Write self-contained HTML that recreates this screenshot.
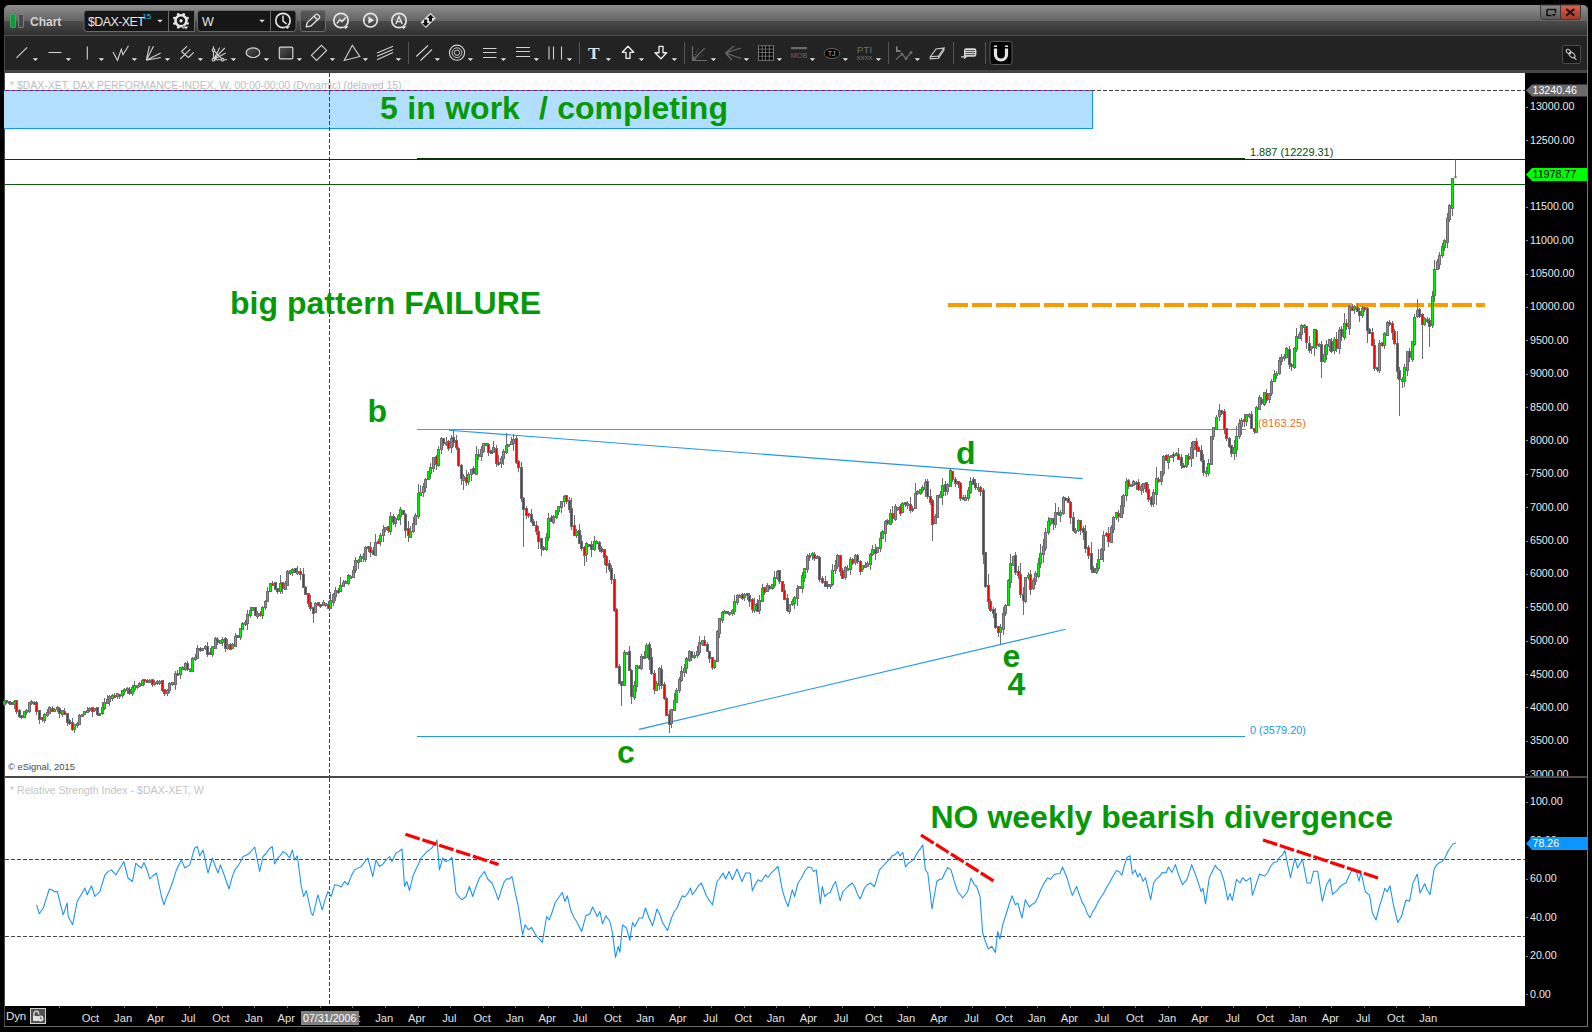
<!DOCTYPE html>
<html><head><meta charset="utf-8"><title>Chart</title>
<style>
html,body{margin:0;padding:0;background:#000;}
body{width:1592px;height:1032px;position:relative;overflow:hidden;font-family:"Liberation Sans",Arial,sans-serif;}
div{position:absolute;box-sizing:border-box;white-space:nowrap;}
#win{left:4px;top:5px;width:1584px;height:1022px;background:#000;border-radius:5px 5px 0 0;overflow:hidden;}
#title{left:0;top:0;width:1584px;height:30px;background:linear-gradient(#8e8e8e 0%,#7a7a7a 25%,#646464 52%,#4b4b4b 53%,#3c3c3c 80%,#2f2f2f 100%);}
#tline{left:0;top:30px;width:1584px;height:1px;background:#505050;}
#tool{left:0;top:31px;width:1584px;height:35px;background:#232323;}
#strip{left:0;top:65px;width:1584px;height:3px;background:#444;}
#plot{left:1px;top:68px;width:1520px;height:933px;background:#fff;}
#lb{left:0;top:31px;width:1px;height:991px;background:#4a4a4a;}
#rb{left:1583px;top:0;width:1px;height:1022px;background:#787878;}
#bb{left:0;top:1021px;width:1584px;height:1px;background:#6a6a6a;}
#sep{left:1px;top:771px;width:1582px;height:2px;background:#4a4a4a;}
.yl{left:1530px;font-size:10.67px;line-height:14px;color:#ececec;}
.tk{left:1526px;width:2px;height:1px;background:#8a8a8a;}
.xl{top:1010px;width:40px;text-align:center;font-size:11.2px;line-height:16px;color:#e2e2e2;}
.xt{top:1006px;width:1px;height:2px;background:#777;}
.ann{color:#069906;font-weight:bold;font-size:32px;line-height:34px;}
.tag{left:1526px;width:61px;height:13px;font-size:10.67px;line-height:13px;padding-left:6.5px;}
#svg{position:absolute;left:0;top:0;}
</style></head><body>
<div id="win">
 <div id="title"></div><div id="tline"></div><div id="tool"></div><div id="strip"></div>
 <div id="plot"></div>
 <div id="lb"></div><div id="rb"></div><div id="bb"></div>
</div>
<div id="sepw" style="left:5px;top:776px;width:1582px;height:2px;background:#4a4a4a"></div>

<div style="left:10px;top:80px;font-size:10.45px;line-height:12px;color:#bdbdbd" id="hdr">* $DAX-XET, DAX PERFORMANCE-INDEX, W, 00:00-00:00 (Dynamic) (delayed 15)</div>
<div style="left:10px;top:783.5px;font-size:10.63px;line-height:12px;color:#c4c4c4" id="hdr2">* Relative Strength Index - $DAX-XET, W</div>
<div style="left:8px;top:761px;font-size:9.4px;line-height:12px;color:#4a4a4a" id="cpy">© eSignal, 2015</div>

<div style="left:4px;top:90px;width:1089px;height:39px;background:#b3dfff;border:1px solid #0a98fc;border-left:none;"></div>

<svg id="svg" width="1592" height="1032" viewBox="0 0 1592 1032">
<defs>
<linearGradient id="gshape" x1="0" y1="0" x2="1" y2="1"><stop offset="0" stop-color="#555"/><stop offset="1" stop-color="#1c1c1c"/></linearGradient>
<linearGradient id="gpen" x1="0" y1="0" x2="0" y2="1"><stop offset="0" stop-color="#5a5a5a"/><stop offset="0.5" stop-color="#4a4a4a"/><stop offset="0.52" stop-color="#333"/><stop offset="1" stop-color="#2c2c2c"/></linearGradient>
<linearGradient id="gbtn" x1="0" y1="0" x2="0" y2="1"><stop offset="0" stop-color="#8a8a8a"/><stop offset="1" stop-color="#585858"/></linearGradient>
<linearGradient id="gred" x1="0" y1="0" x2="0" y2="1"><stop offset="0" stop-color="#d66a58"/><stop offset="0.5" stop-color="#c04a38"/><stop offset="1" stop-color="#a63a2c"/></linearGradient>
</defs>
<g id="titleicons">
<rect x="10.5" y="14.5" width="5" height="13" rx="0.8" fill="#0b9a3c" stroke="#3fb868" stroke-width="0.8"/>
<rect x="18.5" y="14.5" width="5" height="13" rx="0.8" fill="#484848" stroke="#8a8a8a" stroke-width="0.8"/>
<path d="M87 10.5H194.5V31.5H87A3 3 0 0 1 84 28.5V13.5A3 3 0 0 1 87 10.5z" fill="#161616" stroke="#6a6a6a" stroke-width="1"/>
<path d="M168.5 10.5V31.5" stroke="#6a6a6a" stroke-width="1"/>
<path d="M157.2 19.8h5.6l-2.8 2.8z" fill="#e0e0e0"/>
<circle cx="187.57" cy="23.50" r="1.35" fill="#e4e4e4"/><circle cx="183.73" cy="27.35" r="1.35" fill="#e4e4e4"/><circle cx="178.30" cy="27.37" r="1.35" fill="#e4e4e4"/><circle cx="174.45" cy="23.53" r="1.35" fill="#e4e4e4"/><circle cx="174.43" cy="18.10" r="1.35" fill="#e4e4e4"/><circle cx="178.27" cy="14.25" r="1.35" fill="#e4e4e4"/><circle cx="183.70" cy="14.23" r="1.35" fill="#e4e4e4"/><circle cx="187.55" cy="18.07" r="1.35" fill="#e4e4e4"/>
<circle cx="181" cy="20.8" r="5.5" stroke="#e4e4e4" stroke-width="2.6" fill="none"/><circle cx="181" cy="20.8" r="1.7" fill="#e4e4e4"/>
<path d="M182.9 26.2h6l-3 3.2z" fill="#fff" stroke="#161616" stroke-width="0.6"/>
<path d="M200.5 10.5H293A3 3 0 0 1 296 13.5V28.5A3 3 0 0 1 293 31.5H200.5A3 3 0 0 1 197.5 28.5V13.5A3 3 0 0 1 200.5 10.5z" fill="#161616" stroke="#6a6a6a" stroke-width="1"/>
<path d="M270.5 10.5V31.5" stroke="#6a6a6a" stroke-width="1"/>
<path d="M259.2 19.8h5.6l-2.8 2.8z" fill="#e0e0e0"/>
<circle cx="283" cy="20.5" r="7.2" stroke="#e4e4e4" fill="none" stroke-width="1.7"/><path d="M283 15.5V21.2L286.6 24" stroke="#e4e4e4" fill="none" stroke-width="1.5"/>
<path d="M284.3 26h6l-3 3.2z" fill="#fff" stroke="#161616" stroke-width="0.5"/>
<rect x="300.5" y="10.5" width="25" height="21" rx="2.5" fill="url(#gpen)" stroke="#6e6e6e" stroke-width="1"/>
<path d="M306.2 26.8L307.2 22.6L315.6 14.6A1.6 1.6 0 0 1 317.9 14.6L319.2 15.9A1.6 1.6 0 0 1 319.2 18.2L310.6 26.2zM314 16.2L317.6 19.8" stroke="#e4e4e4" fill="none" stroke-width="1.3" stroke-linejoin="round"/>
<circle cx="341" cy="20.5" r="7.2" stroke="#e4e4e4" fill="none" stroke-width="1.7"/><path d="M336.8 23.5L340 19.6L342 21.6L345.6 17.6" stroke="#e4e4e4" fill="none" stroke-width="1.5"/><path d="M342.8 26.1h6l-3 3.2z" fill="#fff" stroke="#444" stroke-width="0.5"/>
<circle cx="370.5" cy="20.2" r="6.8" stroke="#e4e4e4" fill="none" stroke-width="1.7"/><path d="M368.4 16.6V23.8L374 20.2z" fill="#e4e4e4"/>
<circle cx="399" cy="20.5" r="7.2" stroke="#e4e4e4" fill="none" stroke-width="1.7"/><path d="M395.8 24L399 16.5L402.2 24M396.9 21.6H401.1" stroke="#e4e4e4" fill="none" stroke-width="1.4"/><path d="M400.6 26.1h6l-3 3.2z" fill="#fff" stroke="#444" stroke-width="0.5"/>
<path d="M420.5 22.6L430.4 12.8L435.8 18.2L425.9 28z" fill="#e0e0e0"/><path d="M430.5 14.5L434 18H432V21.6H429V18H427z" fill="#111"/><path d="M425.6 26.6L422.1 23.1H424.1V19.6H427.1V23.1H429.1z" fill="#111"/>
<path d="M1540.5 5H1580.5V16.5A3 3 0 0 1 1577.5 19.5H1543.5A3 3 0 0 1 1540.5 16.5z" fill="url(#gbtn)" stroke="#3c3c3c" stroke-width="1"/>
<path d="M1560.5 5H1580.5V16.5A3 3 0 0 1 1577.5 19.5H1560.5z" fill="url(#gred)" stroke="#3c3c3c" stroke-width="1"/>
<path d="M1547 9.5H1555.5V13M1547 9.5V15.5H1551.5" stroke="#151515" stroke-width="1.6" fill="none"/><path d="M1551.6 14h4.6l-2.3 2.4z" fill="#151515"/>
<path d="M1566.3 9L1574.3 15.6M1574.3 9L1566.3 15.6" stroke="#1a1a1a" stroke-width="2.1"/>
</g>
<g id="toolicons">
<path d="M16.5 57.8L27.2 47.4" stroke="#d0d0d0" stroke-width="1.1" fill="none"/><path d="M32.7 58.2h5.4l-2.7 2.9z" fill="#e6e6e6"/>
<path d="M48.5 52.5H61.5" stroke="#d0d0d0" stroke-width="1.1" fill="none"/><path d="M65.7 58.2h5.4l-2.7 2.9z" fill="#e6e6e6"/>
<path d="M87.3 46.4V59.6" stroke="#d0d0d0" stroke-width="1.1" fill="none"/><path d="M98.7 58.2h5.4l-2.7 2.9z" fill="#e6e6e6"/>
<path d="M113 52L117.5 60.3L121.3 49.2L123 54.7L128.5 45.7" stroke="#d0d0d0" stroke-width="1.1" fill="none"/><path d="M131.7 58.2h5.4l-2.7 2.9z" fill="#e6e6e6"/>
<path d="M146.3 60.3L149.4 46.2M146.3 60.3L153.5 46.2M146.3 60.3L160.7 53.1M146.3 60.3L160.7 57.5" stroke="#d0d0d0" stroke-width="1.1" fill="none"/><path d="M164.7 58.2h5.4l-2.7 2.9z" fill="#e6e6e6"/>
<path d="M180.2 59L185 54.3M181.5 51.5L188.4 57.5M181.5 51.5L187.1 46.2M185 54.4L190.3 49.3M188.4 57.5L193.7 52.4" stroke="#d0d0d0" stroke-width="1.1" fill="none"/><path d="M197.7 58.2h5.4l-2.7 2.9z" fill="#e6e6e6"/>
<path d="M213.5 46.2V59.7H227M213.5 59.7L219.8 47.4M213.5 59.7L224.8 48M213.5 59.7L225.7 53.1M213.5 50.2L222.6 59.7" stroke="#d0d0d0" stroke-width="1.1" fill="none"/><circle cx="213.5" cy="50.2" r="1.3" fill="#232323" stroke="#d0d0d0" stroke-width="1.1" /><circle cx="213.5" cy="59.7" r="1.3" fill="#232323" stroke="#d0d0d0" stroke-width="1.1" /><circle cx="222.6" cy="59.7" r="1.3" fill="#232323" stroke="#d0d0d0" stroke-width="1.1" /><path d="M230.7 58.2h5.4l-2.7 2.9z" fill="#e6e6e6"/>
<ellipse cx="253" cy="52.7" rx="6.8" ry="4.8" stroke="#d4d4d4" stroke-width="1.2" fill="url(#gshape)"/><path d="M263.7 58.2h5.4l-2.7 2.9z" fill="#e6e6e6"/>
<rect x="279.3" y="47.2" width="13.5" height="11.6" rx="1" stroke="#d4d4d4" stroke-width="1.2" fill="url(#gshape)"/><path d="M296.7 58.2h5.4l-2.7 2.9z" fill="#e6e6e6"/>
<path d="M311.4 55.3L321.4 45.3L326.6 50.4L316.6 60.5z" stroke="#d0d0d0" stroke-width="1.1" fill="none"/><path d="M329.7 58.2h5.4l-2.7 2.9z" fill="#e6e6e6"/>
<path d="M352.3 45.3L359.8 56.5L344.2 60.5z" stroke="#d0d0d0" stroke-width="1.1" fill="none"/><path d="M362.7 58.2h5.4l-2.7 2.9z" fill="#e6e6e6"/>
<path d="M377 52.9L393 46.3M377 56.3L393 49.4M377 59.8L393 52.5" stroke="#d0d0d0" stroke-width="1.1" fill="none"/><path d="M395.7 58.2h5.4l-2.7 2.9z" fill="#e6e6e6"/>
<path d="M408.5 42V64" stroke="#555" stroke-width="1"/>
<path d="M416.2 56.5L428 45.5M420.5 60.5L432 49.5" stroke="#d0d0d0" stroke-width="1.1" fill="none"/><path d="M434.7 58.2h5.4l-2.7 2.9z" fill="#e6e6e6"/>
<circle cx="457" cy="52.7" r="7.6" stroke="#d0d0d0" stroke-width="1.1" fill="none"/><circle cx="457" cy="52.7" r="4.9" stroke="#d4d4d4" stroke-width="0.9" fill="none"/><circle cx="457" cy="52.7" r="2.7" stroke="#d4d4d4" stroke-width="0.9" fill="none"/><path d="M467.7 58.2h5.4l-2.7 2.9z" fill="#e6e6e6"/>
<path d="M483 48.5H496.5M483 52.5H496.5M483 57.5H496.5" stroke="#d0d0d0" stroke-width="1.1" fill="none"/><path d="M500.7 58.2h5.4l-2.7 2.9z" fill="#e6e6e6"/>
<path d="M516 47.5H530M516 51.5H530M516 56.5H530" stroke="#d0d0d0" stroke-width="1.1" fill="none"/><path d="M533.7 58.2h5.4l-2.7 2.9z" fill="#e6e6e6"/>
<path d="M549 46.5V59.5M553.5 46.5V59.5M561.5 46.5V59.5" stroke="#d0d0d0" stroke-width="1.1" fill="none"/><path d="M566.7 58.2h5.4l-2.7 2.9z" fill="#e6e6e6"/>
<path d="M579.5 42V64" stroke="#555" stroke-width="1"/>
<text x="588" y="58.5" font-family="Liberation Serif,serif" font-weight="bold" font-size="17.5" fill="#e0e0e0">T</text><path d="M605.7 58.2h5.4l-2.7 2.9z" fill="#e6e6e6"/>
<path d="M628 46.3L633.7 52.3H630V58.3H626V52.3H622.3z" stroke="#ececec" stroke-width="1.35" stroke-linejoin="round" fill="none"/><path d="M638.7 58.2h5.4l-2.7 2.9z" fill="#e6e6e6"/>
<path d="M659 46.3H663V52.7H666.7L660.9 58.7L655 52.7H659z" stroke="#ececec" stroke-width="1.35" stroke-linejoin="round" fill="none"/><path d="M671.7 58.2h5.4l-2.7 2.9z" fill="#e6e6e6"/>
<path d="M684.5 42V64" stroke="#555" stroke-width="1"/>
<path d="M692.5 46.3V60.5H707M692.5 60.5L704.7 48.2" stroke="#6a6a6a" stroke-width="1.2" fill="none"/><path d="M693 59.5L698.7 47.8M693.5 59.5L704.7 54.2" stroke="#6a6a6a" stroke-width="1" stroke-dasharray="1 1.5" fill="none"/><path d="M692.5 60.5L693 56.5L696.5 60z" fill="#6a6a6a"/><path d="M710.7 58.2h5.4l-2.7 2.9z" fill="#e6e6e6"/>
<path d="M725.5 53L734 46M725.5 53L741 48M725.5 53L741 58.5M725.5 53L732 60" stroke="#6a6a6a" stroke-width="1.2" fill="none"/><path d="M743.7 58.2h5.4l-2.7 2.9z" fill="#e6e6e6"/>
<rect x="758.5" y="45.8" width="15" height="14.5" fill="#000" stroke="#777" stroke-width="1"/><path d="M762.2 45.8V60.3M765.5 45.8V60.3M769.3 45.8V60.3M758.5 49.1H773.5M758.5 52.4H773.5M758.5 56.2H773.5" stroke="#777" stroke-width="0.9"/><path d="M776.7 58.2h5.4l-2.7 2.9z" fill="#e6e6e6"/>
<rect x="791" y="47" width="16" height="2.2" fill="#6a6a6a"/><text x="790.8" y="58.2" font-size="7.4" font-family="Liberation Sans,sans-serif" fill="#6a6a6a" textLength="16.4" lengthAdjust="spacingAndGlyphs">MOB</text><path d="M809.7 58.2h5.4l-2.7 2.9z" fill="#e6e6e6"/>
<ellipse cx="832" cy="53.5" rx="7.8" ry="5" fill="#000" stroke="#666" stroke-width="1"/><text x="827.8" y="56.2" font-size="7" font-family="Liberation Sans,sans-serif" fill="#bbb">TJ</text><path d="M842.7 58.2h5.4l-2.7 2.9z" fill="#e6e6e6"/>
<text x="857" y="52.8" font-size="9.4" font-family="Liberation Sans,sans-serif" fill="#6e6e6e" textLength="15" lengthAdjust="spacing">PTI</text><text x="856.6" y="59.6" font-size="6.4" font-family="Liberation Sans,sans-serif" fill="#6e6e6e" textLength="15.6" lengthAdjust="spacingAndGlyphs">xxxx</text><path d="M875.7 58.2h5.4l-2.7 2.9z" fill="#e6e6e6"/>
<path d="M888.5 42V64" stroke="#555" stroke-width="1"/>
<path d="M896 59.5L902 54L906 58.5L911 52.5" stroke="#6a6a6a" stroke-width="1.2" fill="none"/><circle cx="902" cy="54" r="1.5" fill="#6a6a6a"/><circle cx="906" cy="58.5" r="1.5" fill="#6a6a6a"/><circle cx="911" cy="52.5" r="1.5" fill="#6a6a6a"/><path d="M896.8 46.5V51H900.5" stroke="#999" stroke-width="1.3" fill="none"/><path d="M914.7 58.2h5.4l-2.7 2.9z" fill="#e6e6e6"/>
<path d="M930.3 56.8L936 49L944 48L938.5 56zM930.3 56.8V58.8L938.5 58.2L944 50.2V48M938.5 56V58.2" stroke="#d0d0d0" stroke-width="1.1" fill="none"/>
<path d="M953.5 42V64" stroke="#555" stroke-width="1"/>
<rect x="964" y="48.2" width="12.4" height="8.6" rx="2.2" fill="#d8d8d8"/><path d="M965.5 50.6H975M965.5 52.6H975M965.5 54.6H975" stroke="#333" stroke-width="0.8"/><path d="M961 56.8H965.5M964 55L966.2 56.8L964 58.6" stroke="#d8d8d8" stroke-width="1.2" fill="none"/>
<path d="M985.5 42V64" stroke="#555" stroke-width="1"/>
<rect x="990" y="41.5" width="22" height="23" rx="2.5" fill="#000" stroke="#5a5a5a" stroke-width="1"/><path d="M995.5 48.5V54.5A5.5 5.5 0 0 0 1006.5 54.5V48.5" stroke="#e4e4e4" stroke-width="3.2" fill="none"/><path d="M993.9 46.2H997.1M1004.9 46.2H1008.1" stroke="#e4e4e4" stroke-width="1.6"/>
<rect x="1562.5" y="45.5" width="18" height="18" rx="1.5" fill="#161616" stroke="#4c4c4c" stroke-width="1"/><ellipse cx="1568.5" cy="51.5" rx="2.6" ry="1.8" transform="rotate(40 1568.5 51.5)" stroke="#ccc" stroke-width="1" fill="none"/><ellipse cx="1572" cy="55" rx="3.4" ry="2.2" transform="rotate(40 1572 55)" stroke="#ccc" stroke-width="1" fill="none"/><path d="M1569.5 52.5L1571 54M1573.5 56.8L1576.5 59.8" stroke="#ccc" stroke-width="1.1"/>
</g>
<g shape-rendering="crispEdges">
 <path d="M5 90.5H1093" stroke="#a0105a" stroke-width="1" stroke-dasharray="4 2"/>
 <path d="M329.5 73V776M329.5 778V1006" stroke="#404040" stroke-width="1" stroke-dasharray="4 2"/>
 <path d="M1093 90.5H1525" stroke="#404040" stroke-width="1" stroke-dasharray="4 2" stroke-dashoffset="2"/>
 <path d="M417 158.5H1245" stroke="#063806" stroke-width="1"/>
 <path d="M5 159.5H1525" stroke="#0808ff" stroke-width="1"/>
 <path d="M5 184.5H1525" stroke="#0c5c0c" stroke-width="1"/>
 <path d="M417 429.5H1246" stroke="#ff6a00" stroke-width="1"/>
 <path d="M417 736.5H1245" stroke="#2196f0" stroke-width="1"/>
 <path d="M5 859.5H1525M5 936.5H1525" stroke="#444" stroke-width="1" stroke-dasharray="4 2"/>
 <path d="M948 305H1485" stroke="#ff9900" stroke-width="4" stroke-dasharray="20 4"/>
</g>
<path d="M449 430.2L1082.6 478.6M639 729.4L1065.6 629.2" stroke="#2196f0" stroke-width="1.1" fill="none"/>
<g id="candles">
<path d="M4 700h1V706h-1zM3 701h3V705h-3zM6 700h1V704h-1zM5 700h3V703h-3zM9 701h1V705h-1zM8 701h3V704h-3zM11 702h1V705h-1zM10 702h3V705h-3zM14 700h1V709h-1zM13 701h3V705h-3zM16 700h1V714h-1zM15 700h3V712h-3zM19 709h1V718h-1zM18 710h3V717h-3zM21 715h1V719h-1zM20 715h3V718h-3zM24 711h1V718h-1zM23 711h3V718h-3zM26 709h1V715h-1zM25 710h3V713h-3zM29 702h1V713h-1zM28 702h3V712h-3zM31 700h1V705h-1zM30 701h3V704h-3zM34 701h1V705h-1zM33 702h3V705h-3zM36 701h1V715h-1zM35 702h3V712h-3zM39 710h1V724h-1zM38 710h3V720h-3zM42 717h1V722h-1zM41 717h3V720h-3zM44 713h1V723h-1zM43 714h3V721h-3zM47 709h1V717h-1zM46 712h3V716h-3zM49 706h1V714h-1zM48 707h3V714h-3zM52 706h1V712h-1zM51 708h3V712h-3zM54 708h1V712h-1zM53 709h3V712h-3zM57 706h1V712h-1zM56 707h3V710h-3zM59 707h1V718h-1zM58 708h3V714h-3zM62 710h1V717h-1zM61 710h3V715h-3zM64 708h1V715h-1zM63 711h3V715h-3zM67 713h1V726h-1zM66 713h3V723h-3zM69 719h1V725h-1zM68 720h3V724h-3zM72 718h1V731h-1zM71 722h3V730h-3zM74 724h1V733h-1zM73 724h3V730h-3zM77 722h1V728h-1zM76 723h3V726h-3zM79 714h1V725h-1zM78 715h3V725h-3zM82 714h1V717h-1zM81 714h3V717h-3zM84 711h1V715h-1zM83 711h3V715h-3zM87 707h1V713h-1zM86 710h3V713h-3zM89 707h1V712h-1zM88 708h3V711h-3zM92 707h1V717h-1zM91 707h3V712h-3zM94 708h1V712h-1zM93 708h3V711h-3zM97 707h1V716h-1zM96 707h3V715h-3zM99 713h1V716h-1zM98 713h3V716h-3zM102 702h1V715h-1zM101 707h3V714h-3zM104 698h1V710h-1zM103 702h3V709h-3zM107 695h1V704h-1zM106 699h3V704h-3zM109 695h1V706h-1zM108 696h3V702h-3zM112 694h1V701h-1zM111 695h3V699h-3zM114 693h1V698h-1zM113 695h3V698h-3zM117 693h1V699h-1zM116 693h3V697h-3zM119 694h1V699h-1zM118 694h3V697h-3zM122 690h1V698h-1zM121 690h3V696h-3zM124 688h1V695h-1zM123 689h3V692h-3zM127 687h1V694h-1zM126 688h3V691h-3zM129 687h1V695h-1zM128 689h3V694h-3zM132 685h1V696h-1zM131 687h3V694h-3zM134 681h1V692h-1zM133 685h3V690h-3zM137 685h1V689h-1zM136 685h3V688h-3zM139 682h1V687h-1zM138 683h3V687h-3zM142 679h1V686h-1zM141 680h3V686h-3zM144 679h1V685h-1zM143 679h3V682h-3zM147 679h1V683h-1zM146 680h3V683h-3zM149 679h1V683h-1zM148 680h3V683h-3zM152 679h1V687h-1zM151 679h3V685h-3zM154 680h1V686h-1zM153 682h3V685h-3zM157 680h1V685h-1zM156 681h3V684h-3zM159 680h1V685h-1zM158 681h3V684h-3zM162 680h1V692h-1zM161 680h3V691h-3zM164 689h1V696h-1zM163 689h3V694h-3zM167 689h1V696h-1zM166 690h3V694h-3zM169 682h1V693h-1zM168 683h3V691h-3zM172 682h1V686h-1zM171 682h3V685h-3zM175 671h1V690h-1zM174 673h3V685h-3zM177 670h1V676h-1zM176 673h3V676h-3zM180 667h1V679h-1zM179 667h3V675h-3zM182 666h1V670h-1zM181 667h3V670h-3zM185 662h1V671h-1zM184 663h3V670h-3zM187 661h1V671h-1zM186 663h3V670h-3zM190 668h1V672h-1zM189 669h3V672h-3zM192 657h1V672h-1zM191 658h3V672h-3zM195 654h1V661h-1zM194 657h3V660h-3zM197 645h1V659h-1zM196 648h3V659h-3zM200 647h1V652h-1zM199 648h3V651h-3zM202 648h1V651h-1zM201 648h3V651h-3zM205 645h1V650h-1zM204 646h3V649h-3zM207 642h1V657h-1zM206 646h3V655h-3zM210 648h1V655h-1zM209 652h3V655h-3zM212 646h1V657h-1zM211 646h3V655h-3zM215 637h1V649h-1zM214 638h3V649h-3zM217 637h1V645h-1zM216 639h3V643h-3zM220 640h1V644h-1zM219 640h3V644h-3zM222 637h1V646h-1zM221 639h3V643h-3zM225 637h1V652h-1zM224 638h3V649h-3zM227 639h1V650h-1zM226 644h3V649h-3zM230 643h1V650h-1zM229 644h3V650h-3zM232 643h1V649h-1zM231 644h3V649h-3zM235 633h1V647h-1zM234 636h3V647h-3zM237 635h1V638h-1zM236 635h3V638h-3zM240 628h1V640h-1zM239 628h3V638h-3zM242 622h1V630h-1zM241 623h3V630h-3zM245 620h1V626h-1zM244 622h3V625h-3zM247 610h1V630h-1zM246 614h3V624h-3zM250 607h1V618h-1zM249 610h3V616h-3zM252 607h1V611h-1zM251 607h3V611h-3zM255 607h1V616h-1zM254 607h3V616h-3zM257 611h1V619h-1zM256 613h3V617h-3zM260 611h1V617h-1zM259 613h3V616h-3zM262 606h1V619h-1zM261 607h3V616h-3zM265 600h1V610h-1zM264 601h3V608h-3zM267 587h1V602h-1zM266 591h3V602h-3zM270 583h1V592h-1zM269 583h3V592h-3zM272 581h1V586h-1zM271 583h3V586h-3zM275 582h1V590h-1zM274 582h3V590h-3zM277 588h1V594h-1zM276 588h3V592h-3zM280 575h1V594h-1zM279 583h3V592h-3zM282 582h1V594h-1zM281 582h3V589h-3zM285 581h1V590h-1zM284 583h3V590h-3zM287 570h1V586h-1zM286 571h3V586h-3zM290 570h1V575h-1zM289 570h3V574h-3zM292 568h1V576h-1zM291 569h3V573h-3zM295 568h1V573h-1zM294 568h3V573h-3zM297 566h1V575h-1zM296 571h3V574h-3zM300 568h1V580h-1zM299 571h3V575h-3zM303 568h1V588h-1zM302 574h3V588h-3zM305 586h1V595h-1zM304 587h3V595h-3zM308 593h1V607h-1zM307 593h3V604h-3zM310 595h1V611h-1zM309 602h3V609h-3zM313 607h1V623h-1zM312 607h3V614h-3zM315 602h1V613h-1zM314 603h3V613h-3zM318 602h1V606h-1zM317 602h3V606h-3zM320 604h1V608h-1zM319 604h3V607h-3zM323 600h1V606h-1zM322 602h3V606h-3zM325 603h1V607h-1zM324 603h3V606h-3zM328 601h1V609h-1zM327 604h3V609h-3zM330 592h1V609h-1zM329 600h3V609h-3zM333 593h1V606h-1zM332 594h3V603h-3zM335 587h1V601h-1zM334 590h3V597h-3zM338 588h1V594h-1zM337 590h3V593h-3zM340 577h1V592h-1zM339 585h3V592h-3zM343 580h1V587h-1zM342 582h3V587h-3zM345 580h1V584h-1zM344 581h3V584h-3zM348 574h1V585h-1zM347 575h3V584h-3zM350 575h1V579h-1zM349 576h3V579h-3zM353 566h1V578h-1zM352 570h3V578h-3zM355 557h1V573h-1zM354 560h3V571h-3zM358 559h1V569h-1zM357 560h3V563h-3zM360 554h1V562h-1zM359 556h3V562h-3zM363 553h1V562h-1zM362 556h3V559h-3zM365 546h1V562h-1zM364 547h3V560h-3zM368 546h1V552h-1zM367 546h3V549h-3zM370 542h1V557h-1zM369 547h3V553h-3zM373 547h1V555h-1zM372 550h3V555h-3zM375 534h1V556h-1zM374 542h3V556h-3zM378 539h1V544h-1zM377 541h3V544h-3zM380 533h1V546h-1zM379 535h3V542h-3zM383 525h1V542h-1zM382 529h3V536h-3zM385 527h1V532h-1zM384 527h3V530h-3zM388 526h1V533h-1zM387 526h3V531h-3zM390 512h1V535h-1zM389 516h3V532h-3zM393 514h1V525h-1zM392 516h3V523h-3zM395 517h1V527h-1zM394 518h3V524h-3zM398 514h1V521h-1zM397 515h3V520h-3zM400 507h1V525h-1zM399 509h3V517h-3zM403 510h1V515h-1zM402 510h3V515h-3zM405 513h1V538h-1zM404 514h3V531h-3zM408 521h1V542h-1zM407 528h3V536h-3zM410 526h1V538h-1zM409 531h3V538h-3zM413 517h1V533h-1zM412 523h3V532h-3zM415 513h1V525h-1zM414 515h3V525h-3zM418 484h1V519h-1zM417 493h3V517h-3zM420 485h1V496h-1zM419 492h3V496h-3zM423 483h1V497h-1zM422 486h3V493h-3zM425 478h1V492h-1zM424 479h3V488h-3zM428 471h1V480h-1zM427 471h3V480h-3zM430 463h1V479h-1zM429 467h3V474h-3zM433 457h1V472h-1zM432 457h3V469h-3zM436 455h1V470h-1zM435 456h3V465h-3zM438 446h1V467h-1zM437 449h3V466h-3zM441 437h1V454h-1zM440 438h3V450h-3zM443 438h1V446h-1zM442 438h3V444h-3zM446 437h1V446h-1zM445 442h3V445h-3zM448 440h1V451h-1zM447 441h3V449h-3zM451 435h1V453h-1zM450 438h3V448h-3zM453 430h1V447h-1zM452 437h3V443h-3zM456 435h1V450h-1zM455 440h3V448h-3zM458 447h1V467h-1zM457 448h3V466h-3zM461 464h1V485h-1zM460 465h3V479h-3zM463 474h1V490h-1zM462 476h3V481h-3zM466 470h1V486h-1zM465 477h3V483h-3zM468 472h1V485h-1zM467 474h3V482h-3zM471 469h1V481h-1zM470 469h3V475h-3zM473 466h1V474h-1zM472 468h3V474h-3zM476 446h1V475h-1zM475 454h3V475h-3zM478 449h1V460h-1zM477 454h3V457h-3zM481 446h1V461h-1zM480 449h3V457h-3zM483 443h1V453h-1zM482 443h3V452h-3zM486 443h1V446h-1zM485 443h3V446h-3zM488 443h1V456h-1zM487 444h3V453h-3zM491 450h1V454h-1zM490 450h3V454h-3zM493 441h1V453h-1zM492 447h3V453h-3zM496 445h1V467h-1zM495 448h3V464h-3zM498 455h1V466h-1zM497 462h3V465h-3zM501 456h1V468h-1zM500 458h3V464h-3zM503 449h1V465h-1zM502 451h3V459h-3zM506 433h1V454h-1zM505 445h3V453h-3zM508 444h1V447h-1zM507 444h3V447h-3zM511 437h1V445h-1zM510 441h3V445h-3zM513 434h1V451h-1zM512 439h3V444h-3zM516 436h1V464h-1zM515 438h3V463h-3zM518 460h1V472h-1zM517 461h3V468h-3zM521 462h1V502h-1zM520 467h3V499h-3zM523 497h1V547h-1zM522 498h3V510h-3zM526 506h1V519h-1zM525 508h3V516h-3zM528 513h1V518h-1zM527 513h3V516h-3zM531 509h1V523h-1zM530 514h3V522h-3zM533 519h1V526h-1zM532 521h3V526h-3zM536 521h1V535h-1zM535 525h3V532h-3zM538 526h1V549h-1zM537 531h3V542h-3zM541 538h1V556h-1zM540 538h3V549h-3zM543 546h1V551h-1zM542 547h3V550h-3zM546 533h1V551h-1zM545 537h3V550h-3zM548 513h1V541h-1zM547 518h3V538h-3zM551 515h1V522h-1zM550 517h3V522h-3zM553 515h1V524h-1zM552 516h3V523h-3zM556 510h1V519h-1zM555 510h3V518h-3zM558 506h1V515h-1zM557 506h3V512h-3zM561 501h1V513h-1zM560 501h3V508h-3zM564 495h1V507h-1zM563 496h3V502h-3zM566 495h1V504h-1zM565 495h3V502h-3zM569 497h1V513h-1zM568 500h3V510h-3zM571 498h1V530h-1zM570 508h3V527h-3zM574 515h1V536h-1zM573 525h3V536h-3zM576 529h1V538h-1zM575 531h3V536h-3zM579 524h1V544h-1zM578 530h3V544h-3zM581 535h1V551h-1zM580 541h3V549h-3zM584 546h1V566h-1zM583 547h3V556h-3zM586 542h1V562h-1zM585 543h3V555h-3zM589 544h1V547h-1zM588 544h3V547h-3zM591 541h1V557h-1zM590 544h3V550h-3zM594 536h1V551h-1zM593 541h3V550h-3zM596 540h1V544h-1zM595 541h3V544h-3zM599 541h1V552h-1zM598 542h3V550h-3zM601 546h1V553h-1zM600 548h3V552h-3zM604 549h1V565h-1zM603 549h3V558h-3zM606 555h1V573h-1zM605 556h3V566h-3zM609 560h1V572h-1zM608 563h3V570h-3zM611 565h1V584h-1zM610 568h3V580h-3zM614 574h1V612h-1zM613 579h3V611h-3zM616 608h1V668h-1zM615 609h3V668h-3zM619 664h1V684h-1zM618 666h3V684h-3zM621 681h1V706h-1zM620 681h3V686h-3zM624 650h1V686h-1zM623 652h3V686h-3zM626 652h1V655h-1zM625 652h3V655h-3zM629 646h1V671h-1zM628 651h3V671h-3zM631 669h1V704h-1zM630 670h3V697h-3zM634 681h1V700h-1zM633 685h3V698h-3zM636 665h1V692h-1zM635 665h3V687h-3zM639 665h1V669h-1zM638 666h3V669h-3zM641 654h1V670h-1zM640 656h3V669h-3zM644 651h1V659h-1zM643 656h3V659h-3zM646 643h1V658h-1zM645 645h3V658h-3zM649 642h1V670h-1zM648 644h3V660h-3zM651 648h1V675h-1zM650 657h3V674h-3zM654 670h1V694h-1zM653 673h3V690h-3zM656 681h1V691h-1zM655 683h3V691h-3zM659 667h1V690h-1zM658 668h3V686h-3zM661 665h1V689h-1zM660 669h3V686h-3zM664 682h1V700h-1zM663 684h3V699h-3zM666 697h1V716h-1zM665 698h3V716h-3zM669 710h1V733h-1zM668 714h3V725h-3zM671 709h1V728h-1zM670 709h3V724h-3zM674 693h1V711h-1zM673 700h3V711h-3zM676 688h1V703h-1zM675 690h3V703h-3zM679 677h1V693h-1zM678 679h3V691h-3zM681 666h1V682h-1zM680 671h3V681h-3zM684 664h1V677h-1zM683 668h3V673h-3zM686 657h1V674h-1zM685 658h3V669h-3zM689 650h1V662h-1zM688 651h3V661h-3zM691 651h1V661h-1zM690 651h3V658h-3zM694 652h1V659h-1zM693 655h3V658h-3zM697 646h1V658h-1zM696 651h3V656h-3zM699 636h1V655h-1zM698 642h3V653h-3zM702 640h1V646h-1zM701 640h3V645h-3zM704 636h1V646h-1zM703 640h3V646h-3zM707 642h1V652h-1zM706 644h3V652h-3zM709 651h1V663h-1zM708 651h3V659h-3zM712 657h1V670h-1zM711 657h3V668h-3zM714 660h1V669h-1zM713 660h3V668h-3zM717 630h1V662h-1zM716 631h3V662h-3zM719 618h1V638h-1zM718 618h3V634h-3zM722 611h1V623h-1zM721 612h3V621h-3zM724 610h1V614h-1zM723 611h3V614h-3zM727 611h1V614h-1zM726 611h3V614h-3zM729 612h1V616h-1zM728 612h3V615h-3zM732 609h1V616h-1zM731 610h3V614h-3zM734 595h1V615h-1zM733 601h3V612h-3zM737 594h1V605h-1zM736 595h3V603h-3zM739 594h1V598h-1zM738 595h3V598h-3zM742 593h1V600h-1zM741 594h3V599h-3zM744 593h1V601h-1zM743 594h3V598h-3zM747 593h1V600h-1zM746 593h3V596h-3zM749 593h1V607h-1zM748 595h3V602h-3zM752 598h1V613h-1zM751 599h3V610h-3zM754 598h1V613h-1zM753 604h3V611h-3zM757 599h1V612h-1zM756 603h3V612h-3zM759 595h1V614h-1zM758 600h3V611h-3zM762 584h1V602h-1zM761 588h3V602h-3zM764 587h1V595h-1zM763 587h3V593h-3zM767 583h1V592h-1zM766 585h3V592h-3zM769 585h1V590h-1zM768 586h3V589h-3zM772 584h1V590h-1zM771 584h3V589h-3zM774 571h1V588h-1zM773 577h3V586h-3zM777 570h1V580h-1zM776 571h3V579h-3zM779 570h1V584h-1zM778 570h3V582h-3zM782 581h1V592h-1zM781 581h3V592h-3zM784 584h1V600h-1zM783 590h3V600h-3zM787 594h1V612h-1zM786 598h3V611h-3zM789 604h1V614h-1zM788 604h3V612h-3zM792 599h1V606h-1zM791 601h3V605h-3zM794 596h1V609h-1zM793 597h3V604h-3zM797 585h1V606h-1zM796 588h3V599h-3zM799 586h1V589h-1zM798 586h3V589h-3zM802 572h1V593h-1zM801 575h3V589h-3zM804 568h1V582h-1zM803 568h3V578h-3zM807 554h1V573h-1zM806 556h3V570h-3zM809 553h1V561h-1zM808 555h3V558h-3zM812 552h1V560h-1zM811 553h3V556h-3zM814 552h1V561h-1zM813 554h3V559h-3zM817 555h1V559h-1zM816 556h3V559h-3zM819 556h1V582h-1zM818 557h3V580h-3zM822 576h1V584h-1zM821 578h3V583h-3zM825 576h1V587h-1zM824 581h3V587h-3zM827 581h1V589h-1zM826 584h3V587h-3zM830 584h1V589h-1zM829 584h3V587h-3zM832 564h1V586h-1zM831 570h3V585h-3zM835 560h1V574h-1zM834 565h3V571h-3zM837 554h1V569h-1zM836 555h3V567h-3zM840 555h1V576h-1zM839 555h3V572h-3zM842 568h1V579h-1zM841 570h3V579h-3zM845 566h1V580h-1zM844 567h3V578h-3zM847 565h1V571h-1zM846 568h3V571h-3zM850 557h1V575h-1zM849 559h3V570h-3zM852 558h1V565h-1zM851 559h3V564h-3zM855 554h1V565h-1zM854 555h3V563h-3zM857 554h1V564h-1zM856 555h3V562h-3zM860 560h1V575h-1zM859 561h3V572h-3zM862 565h1V572h-1zM861 565h3V570h-3zM865 562h1V568h-1zM864 565h3V568h-3zM867 561h1V567h-1zM866 563h3V567h-3zM870 553h1V570h-1zM869 554h3V565h-3zM872 545h1V556h-1zM871 549h3V555h-3zM875 544h1V560h-1zM874 549h3V554h-3zM877 547h1V553h-1zM876 547h3V553h-3zM880 532h1V552h-1zM879 538h3V549h-3zM882 530h1V539h-1zM881 531h3V539h-3zM885 520h1V542h-1zM884 521h3V534h-3zM887 519h1V525h-1zM886 520h3V524h-3zM890 509h1V525h-1zM889 513h3V525h-3zM892 506h1V523h-1zM891 513h3V519h-3zM895 504h1V521h-1zM894 506h3V520h-3zM897 507h1V511h-1zM896 507h3V510h-3zM900 504h1V516h-1zM899 506h3V514h-3zM902 502h1V513h-1zM901 503h3V513h-3zM905 502h1V507h-1zM904 502h3V505h-3zM907 501h1V509h-1zM906 503h3V506h-3zM910 497h1V513h-1zM909 504h3V511h-3zM912 506h1V512h-1zM911 508h3V511h-3zM915 483h1V509h-1zM914 493h3V509h-3zM917 490h1V495h-1zM916 491h3V494h-3zM920 489h1V495h-1zM919 489h3V494h-3zM922 485h1V493h-1zM921 487h3V491h-3zM925 479h1V497h-1zM924 482h3V490h-3zM927 479h1V499h-1zM926 481h3V497h-3zM930 489h1V505h-1zM929 496h3V503h-3zM932 499h1V541h-1zM931 500h3V525h-3zM935 514h1V524h-1zM934 516h3V524h-3zM937 495h1V518h-1zM936 495h3V518h-3zM940 491h1V498h-1zM939 494h3V498h-3zM942 478h1V505h-1zM941 485h3V496h-3zM945 481h1V496h-1zM944 484h3V492h-3zM947 483h1V495h-1zM946 484h3V492h-3zM950 468h1V487h-1zM949 470h3V487h-3zM952 471h1V482h-1zM951 471h3V480h-3zM955 477h1V487h-1zM954 479h3V484h-3zM958 481h1V488h-1zM957 481h3V485h-3zM960 482h1V501h-1zM959 483h3V499h-3zM963 495h1V500h-1zM962 497h3V500h-3zM965 495h1V501h-1zM964 497h3V501h-3zM968 487h1V501h-1zM967 490h3V499h-3zM970 477h1V494h-1zM969 481h3V493h-3zM973 477h1V485h-1zM972 479h3V485h-3zM975 479h1V490h-1zM974 483h3V488h-3zM978 483h1V492h-1zM977 487h3V490h-3zM980 486h1V496h-1zM979 487h3V492h-3zM983 488h1V564h-1zM982 490h3V555h-3zM985 552h1V588h-1zM984 552h3V587h-3zM988 574h1V609h-1zM987 585h3V602h-3zM990 599h1V612h-1zM989 601h3V611h-3zM993 607h1V618h-1zM992 609h3V614h-3zM995 608h1V629h-1zM994 613h3V628h-3zM998 626h1V637h-1zM997 626h3V633h-3zM1000 624h1V644h-1zM999 627h3V633h-3zM1003 607h1V635h-1zM1002 613h3V630h-3zM1005 604h1V616h-1zM1004 605h3V614h-3zM1008 579h1V606h-1zM1007 580h3V606h-3zM1010 554h1V588h-1zM1009 563h3V583h-3zM1013 556h1V566h-1zM1012 556h3V566h-3zM1015 552h1V575h-1zM1014 555h3V573h-3zM1018 566h1V579h-1zM1017 571h3V576h-3zM1020 563h1V598h-1zM1019 574h3V595h-3zM1023 587h1V615h-1zM1022 594h3V601h-3zM1025 577h1V603h-1zM1024 577h3V602h-3zM1028 572h1V580h-1zM1027 575h3V578h-3zM1030 570h1V595h-1zM1029 574h3V590h-3zM1033 578h1V590h-1zM1032 580h3V589h-3zM1035 571h1V585h-1zM1034 573h3V582h-3zM1038 558h1V578h-1zM1037 563h3V577h-3zM1040 544h1V568h-1zM1039 553h3V564h-3zM1043 539h1V563h-1zM1042 546h3V555h-3zM1045 528h1V551h-1zM1044 532h3V549h-3zM1048 517h1V535h-1zM1047 521h3V533h-3zM1050 518h1V526h-1zM1049 518h3V524h-3zM1053 518h1V530h-1zM1052 518h3V524h-3zM1055 503h1V528h-1zM1054 512h3V525h-3zM1058 507h1V516h-1zM1057 512h3V515h-3zM1060 510h1V522h-1zM1059 512h3V516h-3zM1063 496h1V515h-1zM1062 497h3V514h-3zM1065 497h1V501h-1zM1064 498h3V501h-3zM1068 496h1V503h-1zM1067 498h3V503h-3zM1070 501h1V524h-1zM1069 502h3V518h-3zM1073 512h1V532h-1zM1072 517h3V531h-3zM1075 528h1V534h-1zM1074 530h3V533h-3zM1078 519h1V532h-1zM1077 520h3V531h-3zM1080 520h1V535h-1zM1079 520h3V531h-3zM1083 526h1V540h-1zM1082 528h3V533h-3zM1085 525h1V553h-1zM1084 531h3V549h-3zM1088 545h1V559h-1zM1087 547h3V556h-3zM1091 542h1V573h-1zM1090 553h3V570h-3zM1093 566h1V573h-1zM1092 568h3V573h-3zM1096 563h1V574h-1zM1095 568h3V573h-3zM1098 549h1V571h-1zM1097 559h3V569h-3zM1101 548h1V560h-1zM1100 549h3V560h-3zM1103 531h1V562h-1zM1102 535h3V551h-3zM1106 532h1V537h-1zM1105 533h3V536h-3zM1108 527h1V547h-1zM1107 533h3V542h-3zM1111 525h1V543h-1zM1110 527h3V543h-3zM1113 516h1V533h-1zM1112 517h3V530h-3zM1116 512h1V520h-1zM1115 512h3V518h-3zM1118 510h1V522h-1zM1117 513h3V517h-3zM1121 496h1V518h-1zM1120 505h3V518h-3zM1123 494h1V514h-1zM1122 495h3V507h-3zM1126 478h1V501h-1zM1125 481h3V496h-3zM1128 479h1V489h-1zM1127 480h3V487h-3zM1131 484h1V487h-1zM1130 484h3V487h-3zM1133 480h1V486h-1zM1132 481h3V486h-3zM1136 481h1V490h-1zM1135 482h3V485h-3zM1138 479h1V491h-1zM1137 482h3V490h-3zM1141 484h1V495h-1zM1140 486h3V491h-3zM1143 483h1V493h-1zM1142 483h3V489h-3zM1146 482h1V493h-1zM1145 482h3V492h-3zM1148 484h1V502h-1zM1147 489h3V500h-3zM1151 496h1V507h-1zM1150 497h3V505h-3zM1153 489h1V507h-1zM1152 492h3V504h-3zM1156 467h1V505h-1zM1155 478h3V495h-3zM1158 477h1V483h-1zM1157 479h3V482h-3zM1161 471h1V485h-1zM1160 471h3V482h-3zM1163 455h1V476h-1zM1162 456h3V474h-3zM1166 454h1V461h-1zM1165 455h3V461h-3zM1168 454h1V469h-1zM1167 456h3V463h-3zM1171 455h1V458h-1zM1170 455h3V458h-3zM1173 452h1V462h-1zM1172 454h3V457h-3zM1176 452h1V456h-1zM1175 453h3V456h-3zM1178 448h1V460h-1zM1177 454h3V460h-3zM1181 454h1V469h-1zM1180 457h3V466h-3zM1183 463h1V468h-1zM1182 465h3V468h-3zM1186 455h1V468h-1zM1185 455h3V467h-3zM1188 453h1V465h-1zM1187 456h3V460h-3zM1191 442h1V467h-1zM1190 447h3V459h-3zM1193 441h1V459h-1zM1192 441h3V450h-3zM1196 438h1V457h-1zM1195 441h3V450h-3zM1198 446h1V452h-1zM1197 447h3V452h-3zM1201 445h1V462h-1zM1200 450h3V461h-3zM1203 454h1V476h-1zM1202 460h3V473h-3zM1206 467h1V477h-1zM1205 471h3V474h-3zM1208 459h1V476h-1zM1207 463h3V474h-3zM1211 436h1V465h-1zM1210 436h3V465h-3zM1213 427h1V440h-1zM1212 427h3V437h-3zM1216 415h1V430h-1zM1215 417h3V430h-3zM1219 404h1V421h-1zM1218 410h3V417h-3zM1221 410h1V415h-1zM1220 410h3V414h-3zM1224 409h1V434h-1zM1223 411h3V430h-3zM1226 428h1V441h-1zM1225 428h3V439h-3zM1229 437h1V448h-1zM1228 438h3V447h-3zM1231 445h1V457h-1zM1230 445h3V454h-3zM1234 440h1V460h-1zM1233 447h3V454h-3zM1236 426h1V457h-1zM1235 436h3V450h-3zM1239 419h1V439h-1zM1238 423h3V437h-3zM1241 418h1V435h-1zM1240 420h3V427h-3zM1244 414h1V427h-1zM1243 419h3V422h-3zM1246 414h1V426h-1zM1245 414h3V422h-3zM1249 413h1V418h-1zM1248 414h3V417h-3zM1251 411h1V429h-1zM1250 414h3V429h-3zM1254 428h1V434h-1zM1253 428h3V432h-3zM1256 406h1V433h-1zM1255 407h3V433h-3zM1259 395h1V410h-1zM1258 397h3V410h-3zM1261 397h1V405h-1zM1260 399h3V404h-3zM1264 392h1V406h-1zM1263 392h3V405h-3zM1266 389h1V403h-1zM1265 393h3V401h-3zM1269 393h1V403h-1zM1268 393h3V400h-3zM1271 379h1V396h-1zM1270 381h3V394h-3zM1274 370h1V382h-1zM1273 374h3V382h-3zM1276 371h1V379h-1zM1275 373h3V376h-3zM1279 357h1V375h-1zM1278 360h3V374h-3zM1281 354h1V365h-1zM1280 357h3V362h-3zM1284 354h1V361h-1zM1283 356h3V359h-3zM1286 347h1V358h-1zM1285 348h3V358h-3zM1289 346h1V369h-1zM1288 349h3V365h-3zM1291 363h1V371h-1zM1290 364h3V367h-3zM1294 347h1V369h-1zM1293 348h3V368h-3zM1296 328h1V352h-1zM1295 336h3V350h-3zM1299 332h1V339h-1zM1298 334h3V339h-3zM1301 324h1V341h-1zM1300 325h3V335h-3zM1304 324h1V333h-1zM1303 325h3V328h-3zM1306 326h1V349h-1zM1305 326h3V343h-3zM1309 336h1V353h-1zM1308 343h3V351h-3zM1311 346h1V354h-1zM1310 346h3V349h-3zM1314 329h1V356h-1zM1313 329h3V348h-3zM1316 329h1V349h-1zM1315 330h3V346h-3zM1319 343h1V347h-1zM1318 344h3V347h-3zM1321 341h1V378h-1zM1320 344h3V362h-3zM1324 345h1V363h-1zM1323 354h3V362h-3zM1326 340h1V360h-1zM1325 344h3V355h-3zM1329 339h1V351h-1zM1328 339h3V347h-3zM1331 338h1V353h-1zM1330 341h3V352h-3zM1334 337h1V354h-1zM1333 339h3V351h-3zM1336 332h1V352h-1zM1335 339h3V349h-3zM1339 327h1V354h-1zM1338 330h3V349h-3zM1341 326h1V341h-1zM1340 329h3V337h-3zM1344 313h1V340h-1zM1343 323h3V338h-3zM1346 319h1V330h-1zM1345 323h3V327h-3zM1349 305h1V335h-1zM1348 306h3V329h-3zM1352 304h1V311h-1zM1351 307h3V311h-3zM1354 305h1V314h-1zM1353 306h3V310h-3zM1357 303h1V312h-1zM1356 307h3V312h-3zM1359 308h1V322h-1zM1358 311h3V316h-3zM1362 306h1V318h-1zM1361 308h3V316h-3zM1364 307h1V312h-1zM1363 307h3V310h-3zM1367 307h1V343h-1zM1366 308h3V331h-3zM1369 328h1V334h-1zM1368 329h3V334h-3zM1372 328h1V346h-1zM1371 332h3V346h-3zM1374 339h1V371h-1zM1373 345h3V369h-3zM1377 367h1V372h-1zM1376 367h3V370h-3zM1379 340h1V373h-1zM1378 343h3V371h-3zM1382 342h1V347h-1zM1381 342h3V346h-3zM1384 332h1V349h-1zM1383 333h3V346h-3zM1387 321h1V336h-1zM1386 322h3V336h-3zM1389 320h1V326h-1zM1388 322h3V325h-3zM1392 321h1V340h-1zM1391 323h3V333h-3zM1394 329h1V345h-1zM1393 331h3V344h-3zM1397 331h1V379h-1zM1396 343h3V372h-3zM1399 367h1V416h-1zM1398 370h3V380h-3zM1402 377h1V388h-1zM1401 379h3V382h-3zM1404 364h1V387h-1zM1403 367h3V382h-3zM1407 351h1V376h-1zM1406 351h3V371h-3zM1409 348h1V362h-1zM1408 351h3V358h-3zM1412 341h1V362h-1zM1411 341h3V360h-3zM1414 314h1V346h-1zM1413 317h3V345h-3zM1417 299h1V318h-1zM1416 310h3V317h-3zM1419 308h1V318h-1zM1418 309h3V317h-3zM1422 313h1V359h-1zM1421 314h3V325h-3zM1424 317h1V326h-1zM1423 318h3V325h-3zM1427 317h1V323h-1zM1426 319h3V322h-3zM1429 318h1V347h-1zM1428 320h3V327h-3zM1432 291h1V328h-1zM1431 296h3V326h-3zM1434 260h1V302h-1zM1433 269h3V296h-3zM1437 259h1V270h-1zM1436 261h3V270h-3zM1439 252h1V269h-1zM1438 255h3V265h-3zM1442 243h1V258h-1zM1441 246h3V256h-3zM1444 239h1V251h-1zM1443 240h3V248h-3zM1447 213h1V248h-1zM1446 218h3V243h-3zM1449 204h1V222h-1zM1448 205h3V220h-3zM1452 178h1V216h-1zM1451 178h3V209h-3z" fill="#6c6c70" fill-rule="nonzero"/><path d="M4 702h1V704h-1zM14 702h1V704h-1zM24 712h1V717h-1zM26 711h1V712h-1zM29 703h1V711h-1zM31 702h1V703h-1zM44 715h1V720h-1zM47 713h1V715h-1zM49 708h1V713h-1zM54 710h1V711h-1zM57 708h1V709h-1zM62 711h1V714h-1zM74 725h1V729h-1zM77 724h1V725h-1zM79 716h1V724h-1zM82 715h1V716h-1zM84 712h1V714h-1zM87 711h1V712h-1zM89 709h1V710h-1zM94 709h1V710h-1zM102 708h1V713h-1zM104 703h1V708h-1zM107 700h1V703h-1zM109 697h1V701h-1zM112 696h1V698h-1zM117 694h1V696h-1zM122 691h1V695h-1zM124 690h1V691h-1zM127 689h1V690h-1zM132 688h1V693h-1zM134 686h1V689h-1zM137 686h1V687h-1zM139 684h1V686h-1zM142 681h1V685h-1zM149 681h1V682h-1zM154 683h1V684h-1zM157 682h1V683h-1zM159 682h1V683h-1zM167 691h1V693h-1zM169 684h1V690h-1zM172 683h1V684h-1zM175 674h1V684h-1zM180 668h1V674h-1zM182 668h1V669h-1zM185 664h1V669h-1zM190 670h1V671h-1zM192 659h1V671h-1zM195 658h1V659h-1zM197 649h1V658h-1zM202 649h1V650h-1zM205 647h1V648h-1zM212 647h1V654h-1zM215 639h1V648h-1zM220 641h1V643h-1zM222 640h1V642h-1zM227 645h1V648h-1zM232 645h1V648h-1zM235 637h1V646h-1zM240 629h1V637h-1zM242 624h1V629h-1zM245 623h1V624h-1zM247 615h1V623h-1zM250 611h1V615h-1zM252 608h1V610h-1zM257 614h1V616h-1zM262 608h1V615h-1zM265 602h1V607h-1zM267 592h1V601h-1zM270 584h1V591h-1zM280 584h1V591h-1zM285 584h1V589h-1zM287 572h1V585h-1zM290 571h1V573h-1zM292 570h1V572h-1zM297 572h1V573h-1zM315 604h1V612h-1zM323 603h1V605h-1zM325 604h1V605h-1zM330 601h1V608h-1zM333 595h1V602h-1zM335 591h1V596h-1zM340 586h1V591h-1zM343 583h1V586h-1zM345 582h1V583h-1zM348 576h1V583h-1zM350 577h1V578h-1zM353 571h1V577h-1zM355 561h1V570h-1zM358 561h1V562h-1zM360 557h1V561h-1zM363 557h1V558h-1zM365 548h1V559h-1zM375 543h1V555h-1zM380 536h1V541h-1zM383 530h1V535h-1zM385 528h1V529h-1zM390 517h1V531h-1zM395 519h1V523h-1zM398 516h1V519h-1zM400 510h1V516h-1zM410 532h1V537h-1zM413 524h1V531h-1zM415 516h1V524h-1zM418 494h1V516h-1zM420 493h1V495h-1zM423 487h1V492h-1zM425 480h1V487h-1zM428 472h1V479h-1zM430 468h1V473h-1zM433 458h1V468h-1zM438 450h1V465h-1zM441 439h1V449h-1zM446 443h1V444h-1zM451 439h1V447h-1zM463 477h1V480h-1zM468 475h1V481h-1zM471 470h1V474h-1zM476 455h1V474h-1zM481 450h1V456h-1zM483 444h1V451h-1zM486 444h1V445h-1zM493 448h1V452h-1zM501 459h1V463h-1zM503 452h1V458h-1zM506 446h1V452h-1zM508 445h1V446h-1zM511 442h1V444h-1zM513 440h1V443h-1zM546 538h1V549h-1zM548 519h1V537h-1zM553 517h1V522h-1zM556 511h1V517h-1zM558 507h1V511h-1zM561 502h1V507h-1zM564 497h1V501h-1zM576 532h1V535h-1zM586 544h1V554h-1zM594 542h1V549h-1zM596 542h1V543h-1zM624 653h1V685h-1zM626 653h1V654h-1zM634 686h1V697h-1zM636 666h1V686h-1zM641 657h1V668h-1zM646 646h1V657h-1zM656 684h1V690h-1zM659 669h1V685h-1zM671 710h1V723h-1zM674 701h1V710h-1zM676 691h1V702h-1zM679 680h1V690h-1zM681 672h1V680h-1zM684 669h1V672h-1zM686 659h1V668h-1zM689 652h1V660h-1zM694 656h1V657h-1zM697 652h1V655h-1zM699 643h1V652h-1zM702 641h1V644h-1zM714 661h1V667h-1zM717 632h1V661h-1zM719 619h1V633h-1zM722 613h1V620h-1zM724 612h1V613h-1zM729 613h1V614h-1zM732 611h1V613h-1zM734 602h1V611h-1zM737 596h1V602h-1zM739 596h1V597h-1zM744 595h1V597h-1zM754 605h1V610h-1zM759 601h1V610h-1zM762 589h1V601h-1zM767 586h1V591h-1zM772 585h1V588h-1zM774 578h1V585h-1zM777 572h1V578h-1zM789 605h1V611h-1zM792 602h1V604h-1zM794 598h1V603h-1zM797 589h1V598h-1zM799 587h1V588h-1zM802 576h1V588h-1zM804 569h1V577h-1zM807 557h1V569h-1zM812 554h1V555h-1zM817 557h1V558h-1zM830 585h1V586h-1zM832 571h1V584h-1zM835 566h1V570h-1zM837 556h1V566h-1zM845 568h1V577h-1zM847 569h1V570h-1zM850 560h1V569h-1zM855 556h1V562h-1zM862 566h1V569h-1zM865 566h1V567h-1zM867 564h1V566h-1zM870 555h1V564h-1zM872 550h1V554h-1zM877 548h1V552h-1zM880 539h1V548h-1zM882 532h1V538h-1zM885 522h1V533h-1zM890 514h1V524h-1zM895 507h1V519h-1zM897 508h1V509h-1zM902 504h1V512h-1zM907 504h1V505h-1zM915 494h1V508h-1zM917 492h1V493h-1zM920 490h1V493h-1zM922 488h1V490h-1zM925 483h1V489h-1zM935 517h1V523h-1zM937 496h1V517h-1zM940 495h1V497h-1zM942 486h1V495h-1zM947 485h1V491h-1zM950 471h1V486h-1zM965 498h1V500h-1zM968 491h1V498h-1zM970 482h1V492h-1zM978 488h1V489h-1zM1000 628h1V632h-1zM1003 614h1V629h-1zM1005 606h1V613h-1zM1008 581h1V605h-1zM1010 564h1V582h-1zM1013 557h1V565h-1zM1025 578h1V601h-1zM1028 576h1V577h-1zM1033 581h1V588h-1zM1035 574h1V581h-1zM1038 564h1V576h-1zM1040 554h1V563h-1zM1043 547h1V554h-1zM1045 533h1V548h-1zM1048 522h1V532h-1zM1050 519h1V523h-1zM1055 513h1V524h-1zM1060 513h1V515h-1zM1063 498h1V513h-1zM1075 531h1V532h-1zM1078 521h1V530h-1zM1096 569h1V572h-1zM1098 560h1V568h-1zM1101 550h1V559h-1zM1103 536h1V550h-1zM1111 528h1V542h-1zM1113 518h1V529h-1zM1116 513h1V517h-1zM1121 506h1V517h-1zM1123 496h1V506h-1zM1126 482h1V495h-1zM1131 485h1V486h-1zM1133 482h1V485h-1zM1141 487h1V490h-1zM1143 484h1V488h-1zM1153 493h1V503h-1zM1156 479h1V494h-1zM1161 472h1V481h-1zM1163 457h1V473h-1zM1168 457h1V462h-1zM1171 456h1V457h-1zM1176 454h1V455h-1zM1186 456h1V466h-1zM1191 448h1V458h-1zM1193 442h1V449h-1zM1206 472h1V473h-1zM1208 464h1V473h-1zM1211 437h1V464h-1zM1213 428h1V436h-1zM1216 418h1V429h-1zM1219 411h1V416h-1zM1234 448h1V453h-1zM1236 437h1V449h-1zM1239 424h1V436h-1zM1241 421h1V426h-1zM1246 415h1V421h-1zM1249 415h1V416h-1zM1256 408h1V432h-1zM1259 398h1V409h-1zM1264 393h1V404h-1zM1269 394h1V399h-1zM1271 382h1V393h-1zM1274 375h1V381h-1zM1276 374h1V375h-1zM1279 361h1V373h-1zM1281 358h1V361h-1zM1284 357h1V358h-1zM1286 349h1V357h-1zM1294 349h1V367h-1zM1296 337h1V349h-1zM1299 335h1V338h-1zM1301 326h1V334h-1zM1304 326h1V327h-1zM1311 347h1V348h-1zM1314 330h1V347h-1zM1319 345h1V346h-1zM1324 355h1V361h-1zM1326 345h1V354h-1zM1329 340h1V346h-1zM1334 340h1V350h-1zM1339 331h1V348h-1zM1344 324h1V337h-1zM1349 307h1V328h-1zM1354 307h1V309h-1zM1362 309h1V315h-1zM1379 344h1V370h-1zM1384 334h1V345h-1zM1387 323h1V335h-1zM1402 380h1V381h-1zM1404 368h1V381h-1zM1407 352h1V370h-1zM1412 342h1V359h-1zM1414 318h1V344h-1zM1417 311h1V316h-1zM1424 319h1V324h-1zM1432 297h1V325h-1zM1434 270h1V295h-1zM1437 262h1V269h-1zM1439 256h1V264h-1zM1442 247h1V255h-1zM1444 241h1V247h-1zM1447 219h1V242h-1zM1449 206h1V219h-1zM1452 179h1V208h-1z" fill="#00f400"/><path d="M6 701h1V702h-1zM9 702h1V703h-1zM11 703h1V704h-1zM16 701h1V711h-1zM19 711h1V716h-1zM21 716h1V717h-1zM34 703h1V704h-1zM36 703h1V711h-1zM39 711h1V719h-1zM42 718h1V719h-1zM52 709h1V711h-1zM59 709h1V713h-1zM64 712h1V714h-1zM67 714h1V722h-1zM69 721h1V723h-1zM72 723h1V729h-1zM92 708h1V711h-1zM97 708h1V714h-1zM99 714h1V715h-1zM114 696h1V697h-1zM119 695h1V696h-1zM129 690h1V693h-1zM144 680h1V681h-1zM147 681h1V682h-1zM152 680h1V684h-1zM162 681h1V690h-1zM164 690h1V693h-1zM177 674h1V675h-1zM187 664h1V669h-1zM200 649h1V650h-1zM207 647h1V654h-1zM210 653h1V654h-1zM217 640h1V642h-1zM225 639h1V648h-1zM230 645h1V649h-1zM237 636h1V637h-1zM255 608h1V615h-1zM260 614h1V615h-1zM272 584h1V585h-1zM275 583h1V589h-1zM277 589h1V591h-1zM282 583h1V588h-1zM295 569h1V572h-1zM300 572h1V574h-1zM303 575h1V587h-1zM305 588h1V594h-1zM308 594h1V603h-1zM310 603h1V608h-1zM313 608h1V613h-1zM318 603h1V605h-1zM320 605h1V606h-1zM328 605h1V608h-1zM338 591h1V592h-1zM368 547h1V548h-1zM370 548h1V552h-1zM373 551h1V554h-1zM378 542h1V543h-1zM388 527h1V530h-1zM393 517h1V522h-1zM403 511h1V514h-1zM405 515h1V530h-1zM408 529h1V535h-1zM436 457h1V464h-1zM443 439h1V443h-1zM448 442h1V448h-1zM453 438h1V442h-1zM456 441h1V447h-1zM458 449h1V465h-1zM461 466h1V478h-1zM466 478h1V482h-1zM473 469h1V473h-1zM478 455h1V456h-1zM488 445h1V452h-1zM491 451h1V453h-1zM496 449h1V463h-1zM498 463h1V464h-1zM516 439h1V462h-1zM518 462h1V467h-1zM521 468h1V498h-1zM523 499h1V509h-1zM526 509h1V515h-1zM528 514h1V515h-1zM531 515h1V521h-1zM533 522h1V525h-1zM536 526h1V531h-1zM538 532h1V541h-1zM541 539h1V548h-1zM543 548h1V549h-1zM551 518h1V521h-1zM566 496h1V501h-1zM569 501h1V509h-1zM571 509h1V526h-1zM574 526h1V535h-1zM579 531h1V543h-1zM581 542h1V548h-1zM584 548h1V555h-1zM589 545h1V546h-1zM591 545h1V549h-1zM599 543h1V549h-1zM601 549h1V551h-1zM604 550h1V557h-1zM606 557h1V565h-1zM609 564h1V569h-1zM611 569h1V579h-1zM614 580h1V610h-1zM616 610h1V667h-1zM619 667h1V683h-1zM621 682h1V685h-1zM629 652h1V670h-1zM631 671h1V696h-1zM639 667h1V668h-1zM644 657h1V658h-1zM649 645h1V659h-1zM651 658h1V673h-1zM654 674h1V689h-1zM661 670h1V685h-1zM664 685h1V698h-1zM666 699h1V715h-1zM669 715h1V724h-1zM691 652h1V657h-1zM704 641h1V645h-1zM707 645h1V651h-1zM709 652h1V658h-1zM712 658h1V667h-1zM727 612h1V613h-1zM742 595h1V598h-1zM747 594h1V595h-1zM749 596h1V601h-1zM752 600h1V609h-1zM757 604h1V611h-1zM764 588h1V592h-1zM769 587h1V588h-1zM779 571h1V581h-1zM782 582h1V591h-1zM784 591h1V599h-1zM787 599h1V610h-1zM809 556h1V557h-1zM814 555h1V558h-1zM819 558h1V579h-1zM822 579h1V582h-1zM825 582h1V586h-1zM827 585h1V586h-1zM840 556h1V571h-1zM842 571h1V578h-1zM852 560h1V563h-1zM857 556h1V561h-1zM860 562h1V571h-1zM875 550h1V553h-1zM887 521h1V523h-1zM892 514h1V518h-1zM900 507h1V513h-1zM905 503h1V504h-1zM910 505h1V510h-1zM912 509h1V510h-1zM927 482h1V496h-1zM930 497h1V502h-1zM932 501h1V524h-1zM945 485h1V491h-1zM952 472h1V479h-1zM955 480h1V483h-1zM958 482h1V484h-1zM960 484h1V498h-1zM963 498h1V499h-1zM973 480h1V484h-1zM975 484h1V487h-1zM980 488h1V491h-1zM983 491h1V554h-1zM985 553h1V586h-1zM988 586h1V601h-1zM990 602h1V610h-1zM993 610h1V613h-1zM995 614h1V627h-1zM998 627h1V632h-1zM1015 556h1V572h-1zM1018 572h1V575h-1zM1020 575h1V594h-1zM1023 595h1V600h-1zM1030 575h1V589h-1zM1053 519h1V523h-1zM1058 513h1V514h-1zM1065 499h1V500h-1zM1068 499h1V502h-1zM1070 503h1V517h-1zM1073 518h1V530h-1zM1080 521h1V530h-1zM1083 529h1V532h-1zM1085 532h1V548h-1zM1088 548h1V555h-1zM1091 554h1V569h-1zM1093 569h1V572h-1zM1106 534h1V535h-1zM1108 534h1V541h-1zM1118 514h1V516h-1zM1128 481h1V486h-1zM1136 483h1V484h-1zM1138 483h1V489h-1zM1146 483h1V491h-1zM1148 490h1V499h-1zM1151 498h1V504h-1zM1158 480h1V481h-1zM1166 456h1V460h-1zM1173 455h1V456h-1zM1178 455h1V459h-1zM1181 458h1V465h-1zM1183 466h1V467h-1zM1188 457h1V459h-1zM1196 442h1V449h-1zM1198 448h1V451h-1zM1201 451h1V460h-1zM1203 461h1V472h-1zM1221 411h1V413h-1zM1224 412h1V429h-1zM1226 429h1V438h-1zM1229 439h1V446h-1zM1231 446h1V453h-1zM1244 420h1V421h-1zM1251 415h1V428h-1zM1254 429h1V431h-1zM1261 400h1V403h-1zM1266 394h1V400h-1zM1289 350h1V364h-1zM1291 365h1V366h-1zM1306 327h1V342h-1zM1309 344h1V350h-1zM1316 331h1V345h-1zM1321 345h1V361h-1zM1331 342h1V351h-1zM1336 340h1V348h-1zM1341 330h1V336h-1zM1346 324h1V326h-1zM1352 308h1V310h-1zM1357 308h1V311h-1zM1359 312h1V315h-1zM1364 308h1V309h-1zM1367 309h1V330h-1zM1369 330h1V333h-1zM1372 333h1V345h-1zM1374 346h1V368h-1zM1377 368h1V369h-1zM1382 343h1V345h-1zM1389 323h1V324h-1zM1392 324h1V332h-1zM1394 332h1V343h-1zM1397 344h1V371h-1zM1399 371h1V379h-1zM1409 352h1V357h-1zM1419 310h1V316h-1zM1422 315h1V324h-1zM1427 320h1V321h-1zM1429 321h1V326h-1z" fill="#f80000"/>
<path d="M1455.5 159.5V176" stroke="#6e6e6e" stroke-width="1"/><path d="M1454 177L1455.5 175.2L1457 177L1455.5 178.8z" fill="#777"/>
</g>
<polyline points="36.6,904.8 39.3,913.8 43.3,908.0 46.3,898.4 49.3,889.0 52.0,890.0 54.6,891.8 57.3,891.5 60.2,903.1 63.2,914.8 67.2,903.0 68.2,916.5 72.6,924.8 77.2,901.5 79.8,897.0 82.3,892.7 84.9,888.0 87.2,894.8 91.5,885.8 94.9,896.5 99.9,891.5 104.9,874.9 108.2,871.6 111.5,869.9 115.8,874.9 118.5,870.5 121.1,866.3 123.8,861.5 128.0,878.0 132.5,881.5 135.8,863.0 138.7,866.3 141.5,868.0 144.0,862.5 146.9,869.7 149.8,879.0 153.2,875.5 156.5,873.0 161.5,896.5 164.0,904.8 166.9,896.2 169.8,889.8 173.1,880.7 176.4,869.9 181.4,859.9 184.8,868.0 189.7,864.9 194.7,848.0 197.4,846.5 199.7,855.9 203.0,849.9 208.0,873.0 212.4,858.0 215.2,866.0 218.0,873.0 220.4,864.9 224.7,876.5 229.0,889.0 231.8,878.3 234.7,869.9 237.5,866.7 240.2,862.2 243.0,856.5 246.3,855.2 249.7,853.0 254.7,847.0 259.7,871.5 263.0,856.5 266.1,853.5 269.2,848.9 272.3,846.5 274.6,864.0 277.4,858.6 280.2,855.7 283.0,851.5 286.3,853.6 289.6,858.0 292.3,849.9 294.6,859.9 297.3,855.9 301.3,886.5 303.6,896.5 306.3,890.5 311.3,913.0 312.9,915.5 317.9,894.8 322.2,909.8 325.0,899.8 327.9,891.5 331.2,896.5 334.6,884.8 337.9,885.2 341.2,887.0 344.5,881.5 347.9,884.8 351.2,876.1 354.5,869.9 357.9,868.1 361.2,866.5 364.5,862.1 367.8,858.0 372.8,876.5 376.0,859.9 379.5,866.5 382.8,864.1 386.2,859.9 389.5,856.5 392.0,861.5 396.0,853.0 399.0,851.4 402.0,849.0 404.5,886.5 406.8,881.5 409.5,890.5 412.8,876.5 415.5,870.3 418.3,864.6 421.0,858.0 423.8,855.2 426.6,852.0 429.4,849.9 431.9,847.9 434.5,844.5 437.0,839.9 439.4,869.9 442.7,858.0 445.4,861.5 448.7,860.4 452.0,857.5 456.0,893.0 459.0,896.9 462.0,899.8 466.0,896.5 469.4,886.5 472.7,896.5 476.0,886.8 479.4,878.0 484.4,871.5 487.7,879.0 492.0,883.0 495.1,890.7 498.3,899.8 501.3,890.1 504.3,881.5 506.9,878.7 509.4,878.9 512.0,876.5 515.3,893.0 518.3,906.5 522.6,934.8 525.0,924.8 528.3,929.8 531.6,927.5 536.6,936.4 539.5,939.1 542.3,942.4 546.6,916.5 549.3,919.8 552.1,912.3 555.0,903.0 558.6,897.5 562.3,892.5 564.9,901.5 567.3,895.8 570.6,909.8 573.6,916.8 576.6,921.5 581.6,931.5 585.9,915.8 589.9,913.8 592.6,907.0 597.2,916.5 599.9,911.5 602.5,923.8 605.9,915.8 609.9,921.5 612.5,933.0 615.5,957.4 618.2,946.4 619.9,952.4 622.5,924.8 626.5,928.0 629.8,940.4 632.5,922.5 634.8,926.5 639.2,918.0 642.5,918.0 645.5,908.0 649.0,917.8 652.5,925.8 657.0,909.0 659.8,914.5 662.5,922.5 667.5,930.5 671.5,918.0 674.2,911.7 677.0,908.0 679.7,901.3 682.4,895.8 684.8,897.0 687.6,893.7 690.4,888.0 692.4,894.8 695.4,890.6 698.4,885.8 701.4,883.0 706.4,895.8 709.4,900.6 712.4,904.8 717.0,881.5 720.0,878.0 723.0,873.0 725.7,879.0 729.0,871.5 732.4,879.8 737.0,869.0 742.0,881.5 745.7,873.0 750.3,873.0 752.3,890.8 755.1,884.7 758.0,879.8 761.3,881.5 765.7,874.8 768.0,877.5 771.3,872.8 774.7,869.7 778.0,866.5 782.3,889.8 785.1,899.4 788.0,906.5 792.3,889.8 794.6,896.5 798.0,883.0 801.3,878.3 804.7,871.3 808.0,867.0 811.3,867.5 813.6,871.5 816.3,869.9 820.3,904.0 822.3,886.5 824.6,896.5 827.4,893.8 830.2,892.5 832.9,886.0 835.6,881.5 840.2,900.8 842.9,891.5 847.9,886.5 852.2,883.0 854.9,887.2 857.5,894.4 860.2,899.0 864.5,888.0 867.4,884.7 870.2,883.0 874.5,886.5 879.5,869.9 882.8,866.5 886.2,862.6 889.5,859.2 892.3,855.8 895.0,854.7 897.8,851.5 900.0,855.9 902.8,852.5 905.5,867.0 908.5,863.0 911.5,861.4 914.5,858.0 917.3,852.7 920.0,849.1 922.8,845.0 925.4,869.9 927.8,873.0 932.0,909.0 936.8,881.5 939.4,879.5 942.0,879.0 944.9,872.7 947.7,867.5 951.0,869.9 954.4,881.9 957.7,891.5 962.7,898.0 967.7,891.5 971.0,878.0 974.4,884.8 976.7,886.5 980.0,896.5 982.7,933.0 985.5,941.8 988.4,949.0 991.7,946.4 995.4,952.4 997.7,931.5 1000.0,939.0 1002.7,924.8 1007.7,909.0 1012.0,895.8 1015.3,904.8 1017.7,903.0 1022.0,918.0 1025.3,899.8 1029.3,907.0 1032.3,904.2 1035.3,902.4 1037.9,897.2 1040.6,890.0 1044.2,883.1 1047.7,877.7 1050.5,879.4 1054.0,874.8 1057.0,873.8 1060.0,873.4 1062.5,867.0 1067.0,877.7 1069.7,887.4 1072.4,895.3 1076.6,886.5 1079.4,894.8 1082.2,902.4 1084.8,906.4 1087.4,913.8 1090.0,917.6 1092.7,911.9 1095.3,907.7 1097.9,902.1 1100.6,897.8 1103.5,893.6 1106.5,887.5 1109.4,883.0 1113.0,876.3 1116.5,870.6 1119.2,871.8 1121.8,875.2 1124.4,865.3 1127.0,857.5 1130.0,855.8 1132.4,874.0 1135.2,870.0 1137.7,877.0 1140.0,873.4 1143.0,881.2 1145.4,877.7 1148.1,888.9 1150.7,899.6 1153.6,883.0 1156.5,878.8 1159.5,876.2 1162.4,872.4 1166.0,873.0 1168.4,867.0 1172.0,872.4 1175.4,864.6 1178.3,874.0 1182.5,884.7 1187.0,879.4 1191.7,864.6 1196.0,876.0 1198.6,883.6 1201.2,891.8 1203.0,888.3 1205.5,904.0 1209.3,877.7 1212.3,871.4 1215.3,865.3 1217.9,869.1 1220.6,870.6 1224.0,881.2 1227.7,900.0 1230.0,893.6 1232.3,900.6 1236.5,879.4 1240.0,883.0 1242.5,877.7 1246.0,881.2 1250.6,877.7 1252.4,895.3 1256.0,884.6 1259.5,874.0 1262.2,875.2 1264.8,876.0 1267.7,872.5 1270.7,866.2 1273.6,862.5 1277.0,861.8 1279.6,857.1 1282.3,855.3 1284.9,850.5 1287.7,864.9 1290.5,877.7 1294.8,858.3 1297.6,868.0 1302.5,859.3 1307.0,883.0 1310.7,883.0 1313.5,871.3 1317.7,871.3 1322.3,901.3 1326.5,884.7 1330.0,878.7 1332.5,894.3 1337.0,890.7 1339.7,887.0 1342.4,884.7 1346.0,883.0 1349.0,875.7 1352.0,870.0 1356.5,872.4 1359.0,881.2 1361.0,872.4 1365.4,891.8 1369.6,895.3 1372.4,913.0 1376.0,920.0 1379.5,906.0 1382.2,897.8 1384.8,888.3 1387.3,891.8 1390.0,885.8 1393.6,906.0 1397.8,922.5 1401.4,916.5 1406.0,900.0 1409.5,901.3 1413.0,883.0 1417.3,874.0 1420.0,892.9 1424.7,883.7 1427.3,890.3 1430.0,894.6 1434.2,868.8 1436.8,864.9 1439.5,862.5 1442.2,861.6 1444.8,858.3 1448.3,850.5 1453.0,844.0 1456.0,843.0" fill="none" stroke="#1690fa" stroke-width="1.05" stroke-linejoin="round"/>
<path d="M405.5 834.3L498.6 864.5" stroke="#f00" stroke-width="3.2" stroke-dasharray="15 2.7"/>
<path d="M921 835L994.6 881.6" stroke="#f00" stroke-width="3.2" stroke-dasharray="15 2.7"/>
<path d="M1263 839.9L1380.4 878.8" stroke="#f00" stroke-width="3.2" stroke-dasharray="15 2.7"/>
</svg>

<div class="ann" style="left:380px;top:90.8px;word-spacing:0.6px" id="a1">5 in work&nbsp; / completing</div>
<div class="ann" style="left:230px;top:286px;" id="a2">big pattern FAILURE</div>
<div class="ann" style="left:367.5px;top:394px;" id="a3">b</div>
<div class="ann" style="left:617px;top:734.5px;" id="a4">c</div>
<div class="ann" style="left:956px;top:436px;" id="a5">d</div>
<div class="ann" style="left:1002.5px;top:638.7px;" id="a6">e</div>
<div class="ann" style="left:1007.5px;top:667.2px;" id="a7">4</div>
<div class="ann" style="left:930.5px;top:799.5px" id="a8">NO weekly bearish divergence</div>

<div style="left:1250px;top:146px;font-size:10.95px;line-height:12px;color:#0a4a0a" id="f1">1.887 (12229.31)</div>
<div style="left:1258px;top:417px;font-size:11.2px;line-height:12px;color:#f07020" id="f2">(8163.25)</div>
<div style="left:1250px;top:724px;font-size:10.95px;line-height:12px;color:#2196f0" id="f3">0 (3579.20)</div>

<div class="yl" style="top:766.7px;height:9.3px;overflow:hidden">3000.00</div><div class="tk" style="top:774px"></div><div class="yl" style="top:733.3px">3500.00</div><div class="tk" style="top:741px"></div><div class="yl" style="top:699.9px">4000.00</div><div class="tk" style="top:707px"></div><div class="yl" style="top:666.6px">4500.00</div><div class="tk" style="top:674px"></div><div class="yl" style="top:633.2px">5000.00</div><div class="tk" style="top:641px"></div><div class="yl" style="top:599.8px">5500.00</div><div class="tk" style="top:607px"></div><div class="yl" style="top:566.4px">6000.00</div><div class="tk" style="top:574px"></div><div class="yl" style="top:533.0px">6500.00</div><div class="tk" style="top:541px"></div><div class="yl" style="top:499.7px">7000.00</div><div class="tk" style="top:507px"></div><div class="yl" style="top:466.3px">7500.00</div><div class="tk" style="top:474px"></div><div class="yl" style="top:432.9px">8000.00</div><div class="tk" style="top:440px"></div><div class="yl" style="top:399.5px">8500.00</div><div class="tk" style="top:407px"></div><div class="yl" style="top:366.1px">9000.00</div><div class="tk" style="top:374px"></div><div class="yl" style="top:332.8px">9500.00</div><div class="tk" style="top:340px"></div><div class="yl" style="top:299.4px">10000.00</div><div class="tk" style="top:307px"></div><div class="yl" style="top:266.0px">10500.00</div><div class="tk" style="top:274px"></div><div class="yl" style="top:232.6px">11000.00</div><div class="tk" style="top:240px"></div><div class="yl" style="top:199.2px">11500.00</div><div class="tk" style="top:207px"></div><div class="yl" style="top:132.5px">12500.00</div><div class="tk" style="top:140px"></div><div class="yl" style="top:99.1px">13000.00</div><div class="tk" style="top:107px"></div><div class="yl" style="top:794.3px">100.00</div><div class="tk" style="top:802px"></div><div class="yl" style="top:871.3px">60.00</div><div class="tk" style="top:879px"></div><div class="yl" style="top:909.9px">40.00</div><div class="tk" style="top:917px"></div><div class="yl" style="top:948.4px">20.00</div><div class="tk" style="top:956px"></div><div class="yl" style="top:986.9px">0.00</div><div class="tk" style="top:994px"></div><div class="yl" style="top:832.8px">80.00</div>
<svg style="position:absolute;left:0;top:0" width="1592" height="1032" viewBox="0 0 1592 1032">
<path d="M1526 90.5L1532 84.5H1587V96.5H1532z" fill="#6a6a6a"/>
<path d="M1526 174.5L1532 168H1587V181H1532z" fill="#00fc00"/>
<path d="M1526 843.5L1532 837H1587V850H1532z" fill="#0a96ff"/>
</svg>
<div class="tag" style="top:84px;color:#fff">13240.46</div>
<div class="tag" style="top:168px;color:#000">11978.77</div>
<div class="tag" style="top:837px;color:#fff">78.26</div>

<div id="xaxis" style="left:5px;top:1006px;width:1582px;height:20px;background:#000"></div>
<div class="xt" style="left:59px"></div><div class="xt" style="left:91px"></div><div class="xl" style="left:70.5px">Oct</div><div class="xt" style="left:124px"></div><div class="xl" style="left:103.1px">Jan</div><div class="xt" style="left:156px"></div><div class="xl" style="left:135.8px">Apr</div><div class="xt" style="left:189px"></div><div class="xl" style="left:168.4px">Jul</div><div class="xt" style="left:222px"></div><div class="xl" style="left:201.0px">Oct</div><div class="xt" style="left:254px"></div><div class="xl" style="left:233.7px">Jan</div><div class="xt" style="left:287px"></div><div class="xl" style="left:266.3px">Apr</div><div class="xt" style="left:320px"></div><div class="xt" style="left:352px"></div><div class="xl" style="left:331.5px">Oct</div><div class="xt" style="left:385px"></div><div class="xl" style="left:364.2px">Jan</div><div class="xt" style="left:418px"></div><div class="xl" style="left:396.8px">Apr</div><div class="xt" style="left:450px"></div><div class="xl" style="left:429.4px">Jul</div><div class="xt" style="left:483px"></div><div class="xl" style="left:462.1px">Oct</div><div class="xt" style="left:515px"></div><div class="xl" style="left:494.7px">Jan</div><div class="xt" style="left:548px"></div><div class="xl" style="left:527.3px">Apr</div><div class="xt" style="left:581px"></div><div class="xl" style="left:560.0px">Jul</div><div class="xt" style="left:613px"></div><div class="xl" style="left:592.6px">Oct</div><div class="xt" style="left:646px"></div><div class="xl" style="left:625.2px">Jan</div><div class="xt" style="left:679px"></div><div class="xl" style="left:657.8px">Apr</div><div class="xt" style="left:711px"></div><div class="xl" style="left:690.5px">Jul</div><div class="xt" style="left:744px"></div><div class="xl" style="left:723.1px">Oct</div><div class="xt" style="left:776px"></div><div class="xl" style="left:755.7px">Jan</div><div class="xt" style="left:809px"></div><div class="xl" style="left:788.4px">Apr</div><div class="xt" style="left:842px"></div><div class="xl" style="left:821.0px">Jul</div><div class="xt" style="left:874px"></div><div class="xl" style="left:853.6px">Oct</div><div class="xt" style="left:907px"></div><div class="xl" style="left:886.3px">Jan</div><div class="xt" style="left:940px"></div><div class="xl" style="left:918.9px">Apr</div><div class="xt" style="left:972px"></div><div class="xl" style="left:951.5px">Jul</div><div class="xt" style="left:1005px"></div><div class="xl" style="left:984.1px">Oct</div><div class="xt" style="left:1037px"></div><div class="xl" style="left:1016.8px">Jan</div><div class="xt" style="left:1070px"></div><div class="xl" style="left:1049.4px">Apr</div><div class="xt" style="left:1103px"></div><div class="xl" style="left:1082.0px">Jul</div><div class="xt" style="left:1135px"></div><div class="xl" style="left:1114.7px">Oct</div><div class="xt" style="left:1168px"></div><div class="xl" style="left:1147.3px">Jan</div><div class="xt" style="left:1201px"></div><div class="xl" style="left:1179.9px">Apr</div><div class="xt" style="left:1233px"></div><div class="xl" style="left:1212.6px">Jul</div><div class="xt" style="left:1266px"></div><div class="xl" style="left:1245.2px">Oct</div><div class="xt" style="left:1299px"></div><div class="xl" style="left:1277.8px">Jan</div><div class="xt" style="left:1331px"></div><div class="xl" style="left:1310.4px">Apr</div><div class="xt" style="left:1364px"></div><div class="xl" style="left:1343.1px">Jul</div><div class="xt" style="left:1396px"></div><div class="xl" style="left:1375.7px">Oct</div><div class="xt" style="left:1429px"></div><div class="xl" style="left:1408.3px">Jan</div>
<div style="left:6px;top:1007.6px;font-size:11.6px;line-height:16px;color:#e0e0e0;letter-spacing:-0.2px" id="dyn">Dyn</div>
<div style="left:30px;top:1008px;width:16px;height:16px;background:#505050;border:1px solid #cfcfcf;"></div>
<svg style="position:absolute;left:30px;top:1008px" width="16" height="16" viewBox="0 0 16 16"><path d="M4 8V5.5A2.3 2.3 0 0 1 8.6 5.5V6.5" stroke="#e0e0e0" stroke-width="1.3" fill="none"/><rect x="3" y="8" width="5" height="5" fill="#e0e0e0"/><circle cx="10.5" cy="10.5" r="3" fill="#e0e0e0"/><path d="M10.5 8.8V10.6H12" stroke="#505050" stroke-width="0.8" fill="none"/></svg>
<div style="left:301px;top:1011px;width:58px;height:14px;background:#808080;color:#fff;font-size:10.67px;line-height:14px;padding-left:2px" id="dt">07/31/2006</div>

<div style="left:30px;top:13.5px;font-size:12px;font-weight:bold;line-height:16px;color:#d2d2d2" id="tchart">Chart</div>
<div style="left:88px;top:13.6px;font-size:12.5px;line-height:16px;color:#e6e6e6;letter-spacing:-0.62px" id="tsym">$DAX-XET</div>
<div style="left:142.4px;top:11.7px;font-size:8px;line-height:10px;color:#22c4ee" id="t15">15</div>
<div style="left:202px;top:13.6px;font-size:12.5px;line-height:16px;color:#e6e6e6" id="tw">W</div>
</body></html>
